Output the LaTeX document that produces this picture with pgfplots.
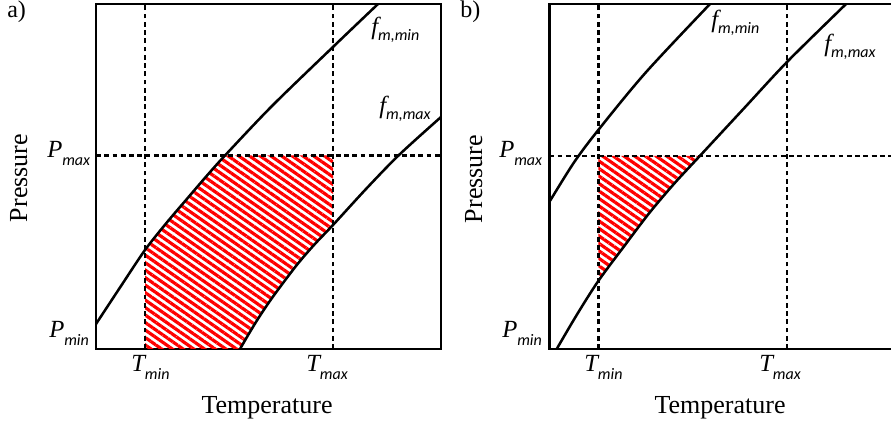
\documentclass[border=0pt]{standalone}
\usepackage{fontspec}
\setmainfont{Liberation Serif}
\newfontfamily\subfam{Carlito}
\usepackage{pgfplots}
\pgfplotsset{compat=1.18}
\usetikzlibrary{patterns.meta}

\newcommand{\lab}[3][5.5pt]{{\fontsize{18.5}{18.5}\selectfont\itshape #2}\raisebox{-#1}{\subfam\itshape\fontsize{12}{12}\selectfont #3}}

\pgfplotsset{
  panel/.style={scale only axis, width=258.75pt, height=258.75pt,
    xmin=0, xmax=345, ymin=0, ymax=345, ticks=none, anchor=south west,
    axis line style={line width=2pt}},
  curve/.style={black, line width=1.9pt, smooth, no marks},
  dash/.style={black, line width=1.8pt, dash pattern=on 3.6pt off 2.6pt, no marks},
  hatch/.style={draw=none, no marks, pattern={Lines[angle=-35, distance=4.6pt, line width=2.4pt]}, pattern color=red}
}

\begin{document}
\begin{tikzpicture}
% ---------------- panel a ----------------
\begin{axis}[panel, at={(72pt,55.5pt)}]
  \addplot[hatch] coordinates {(49,99) (70,125.5) (90,149) (110,172.3) (129,193.5) (237,193.5) (237,124) (218,104) (200,83) (176,51) (160,27) (144,0) (49,0)} -- cycle;
  \addplot[dash] coordinates {(49,0) (49,345)};
  \addplot[dash] coordinates {(237,0) (237,345)};
  \addplot[dash] coordinates {(0,193.5) (345,193.5)};
  \addplot[curve] coordinates {(-15,2) (0,25) (25,63) (49,99) (70,125.5) (90,149) (110,172.3) (129,193.5) (176,243) (238,303) (282,345) (300,362)};
  \addplot[curve] coordinates {(130,-25) (144,0) (160,27) (176,51) (200,83) (218,104) (237,124) (270,160) (303,194) (345,232) (360,245)};
\end{axis}
% ---------------- panel b ----------------
\begin{axis}[panel, at={(411.975pt,55.5pt)}]
  \addplot[hatch] coordinates {(49,68) (75,103) (100,136) (125,165.5) (150.5,193) (49,193)} -- cycle;
  \addplot[dash] coordinates {(49,0) (49,345)};
  \addplot[dash] coordinates {(237.7,0) (237.7,345)};
  \addplot[dash] coordinates {(0,193) (345,193)};
  \addplot[curve] coordinates {(-10,130) (0,147) (25,187) (49,219) (96,276) (160.7,345) (175,359)};
  \addplot[curve] coordinates {(-5,-22) (7.4,0) (28,35) (49,68) (75,103) (100,136) (125,165.5) (150.5,193) (195,241) (238,287.3) (295.7,344) (310,358)};
\end{axis}
% ---------------- labels (px units, origin bottom left) ----------------
\begin{scope}[x=0.75pt, y=0.75pt]
  \tikzset{lbl/.style={anchor=base west, inner sep=0pt}}
  % panel a
  \node[lbl] at (7,405) {\fontsize{18}{18}\selectfont a)};
  \node[lbl] at (47,265) {\lab{P}{max}};
  \node[lbl] at (49,85) {\lab{P}{min}};
  \node[lbl] at (131,51) {\lab{T}{min}};
  \node[lbl] at (306,51) {\lab{T}{max}};
  \node[lbl] at (371,388) {\lab[4.5pt]{f}{m,min}};
  \node[lbl] at (379,309) {\lab[4.5pt]{f}{m,max}};
  \node[anchor=base, inner sep=0pt] at (267,9) {\fontsize{19.5}{20}\selectfont Temperature};
  \node[anchor=base, inner sep=0pt, rotate=90] at (27,245) {\fontsize{19.5}{20}\selectfont Pressure};
  % panel b
  \node[lbl] at (460,405) {\fontsize{18}{18}\selectfont b)};
  \node[lbl] at (499,265) {\lab{P}{max}};
  \node[lbl] at (502,85) {\lab{P}{min}};
  \node[lbl] at (584,51) {\lab{T}{min}};
  \node[lbl] at (759,51) {\lab{T}{max}};
  \node[lbl] at (711,395) {\lab[4.5pt]{f}{m,min}};
  \node[lbl] at (824,371) {\lab[4.5pt]{f}{m,max}};
  \node[anchor=base, inner sep=0pt] at (720,9) {\fontsize{19.5}{20}\selectfont Temperature};
  \node[anchor=base, inner sep=0pt, rotate=90] at (482,244) {\fontsize{19.5}{20}\selectfont Pressure};
\end{scope}
\pgfresetboundingbox
\path[use as bounding box] (0,0) rectangle (668.25pt,317.25pt);
\end{tikzpicture}
\end{document}
